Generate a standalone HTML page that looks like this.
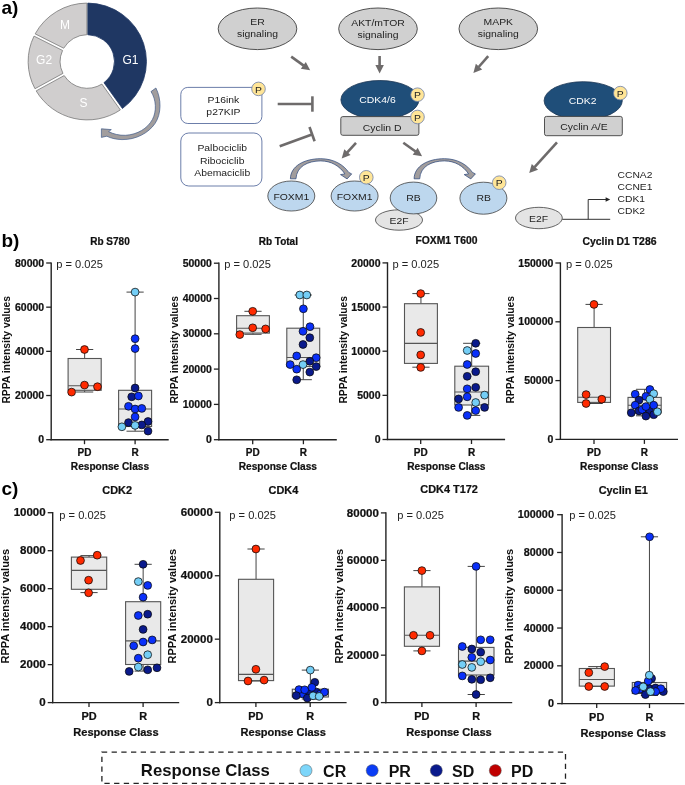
<!DOCTYPE html>
<html><head><meta charset="utf-8"><title>Figure</title>
<style>html,body{margin:0;padding:0;background:#fff;width:685px;height:785px;overflow:hidden;}svg text{font-family:"Liberation Sans", sans-serif;} svg{will-change:transform;}</style></head>
<body>
<svg width="685" height="785" viewBox="0 0 685 785" font-family='"Liberation Sans", sans-serif' style="display:block">
<rect width="685" height="785" fill="#fff"/>
<text x="1.50" y="14.30" font-size="19" font-weight="bold" text-anchor="start" fill="#000" >a)</text>
<text x="1.50" y="246.90" font-size="19" font-weight="bold" text-anchor="start" fill="#000" >b)</text>
<text x="1.50" y="494.60" font-size="19" font-weight="bold" text-anchor="start" fill="#000" >c)</text>
<g transform="translate(87.3,0) scale(1.013,1) translate(-87.3,0)">
<path d="M87.75,3.10 A58.4,58.4 0 0 1 121.98,108.49 L103.75,82.66 A26.8,26.8 0 0 0 87.75,34.70 Z" fill="#1F3763" stroke="#1F3763" stroke-width="0.8"/>
<path d="M119.93,109.93 A58.4,58.4 0 0 1 36.84,90.90 L64.49,75.57 A26.8,26.8 0 0 0 101.71,84.10 Z" fill="#D0CECE" stroke="#7A7A7A" stroke-width="0.8"/>
<path d="M35.63,88.71 A58.4,58.4 0 0 1 34.71,36.11 L62.88,50.46 A26.8,26.8 0 0 0 63.28,73.39 Z" fill="#D0CECE" stroke="#7A7A7A" stroke-width="0.8"/>
<path d="M35.84,33.88 A58.4,58.4 0 0 1 86.85,3.10 L86.85,34.70 A26.8,26.8 0 0 0 64.01,48.23 Z" fill="#D0CECE" stroke="#7A7A7A" stroke-width="0.8"/>
</g>
<text x="65.00" y="28.80" font-size="12" font-weight="normal" text-anchor="middle" fill="#FFFFFF" >M</text>
<text x="44.10" y="64.10" font-size="12" font-weight="normal" text-anchor="middle" fill="#FFFFFF" >G2</text>
<text x="83.40" y="106.50" font-size="12" font-weight="normal" text-anchor="middle" fill="#FFFFFF" >S</text>
<text x="130.40" y="63.60" font-size="12" font-weight="normal" text-anchor="middle" fill="#FFFFFF" >G1</text>
<path d="M151.0,91.6 L155.9,88.0 C161.5,99 161.5,114 155.0,123.5 C148.5,133 136,139.8 122,139.6 C116.5,139.5 110.8,138.2 106.8,136.2 L101.4,137.4 L101.4,128.8 L111.3,129.6 L108.6,131.6 C113,134 119.5,135.6 125.5,135.3 C137.5,134.6 147.5,128.5 152.4,119.5 C156.8,111.5 156.3,99.5 151.0,91.6 Z" fill="#A19D9D" stroke="#3F5A8A" stroke-width="0.7"/>
<ellipse cx="257.5" cy="28.8" rx="39.3" ry="20.8" fill="#D0D0D0" stroke="#404040" stroke-width="0.9"/>
<text transform="translate(257.50,24.50) scale(1.05,1)" font-size="9.9" font-weight="normal" text-anchor="middle" fill="#222" >ER</text>
<text transform="translate(257.50,36.50) scale(1.05,1)" font-size="9.9" font-weight="normal" text-anchor="middle" fill="#222" >signaling</text>
<ellipse cx="378.0" cy="28.8" rx="39.3" ry="20.8" fill="#D0D0D0" stroke="#404040" stroke-width="0.9"/>
<text transform="translate(378.00,26.30) scale(1.05,1)" font-size="9.9" font-weight="normal" text-anchor="middle" fill="#222" >AKT/mTOR</text>
<text transform="translate(378.00,38.20) scale(1.05,1)" font-size="9.9" font-weight="normal" text-anchor="middle" fill="#222" >signaling</text>
<ellipse cx="498.3" cy="28.8" rx="39.3" ry="20.8" fill="#D0D0D0" stroke="#404040" stroke-width="0.9"/>
<text transform="translate(498.30,24.50) scale(1.05,1)" font-size="9.9" font-weight="normal" text-anchor="middle" fill="#222" >MAPK</text>
<text transform="translate(498.30,36.50) scale(1.05,1)" font-size="9.9" font-weight="normal" text-anchor="middle" fill="#222" >signaling</text>
<line x1="291.20" y1="56.60" x2="303.71" y2="65.62" stroke="#6E6B6B" stroke-width="2.6"/>
<polygon points="310.20,70.30 300.82,68.78 305.79,61.88" fill="#6E6B6B"/>
<line x1="379.60" y1="56.00" x2="379.60" y2="65.60" stroke="#6E6B6B" stroke-width="2.6"/>
<polygon points="379.60,73.60 375.35,65.10 383.85,65.10" fill="#6E6B6B"/>
<line x1="488.20" y1="56.20" x2="478.69" y2="67.00" stroke="#6E6B6B" stroke-width="2.6"/>
<polygon points="473.40,73.00 475.83,63.81 482.21,69.43" fill="#6E6B6B"/>
<line x1="356.00" y1="142.80" x2="347.09" y2="152.59" stroke="#6E6B6B" stroke-width="2.6"/>
<polygon points="341.70,158.50 344.28,149.35 350.57,155.08" fill="#6E6B6B"/>
<line x1="403.30" y1="142.70" x2="415.60" y2="151.53" stroke="#6E6B6B" stroke-width="2.6"/>
<polygon points="422.10,156.20 412.72,154.69 417.67,147.79" fill="#6E6B6B"/>
<line x1="557.00" y1="142.40" x2="534.57" y2="167.17" stroke="#6E6B6B" stroke-width="2.6"/>
<polygon points="529.20,173.10 531.76,163.95 538.06,169.65" fill="#6E6B6B"/>
<line x1="277.7" y1="104.0" x2="312.4" y2="104.0" stroke="#6E6B6B" stroke-width="2.6"/>
<line x1="312.4" y1="96.3" x2="312.4" y2="111.7" stroke="#6E6B6B" stroke-width="2.6"/>
<line x1="279.7" y1="146.2" x2="311.9" y2="134.5" stroke="#6E6B6B" stroke-width="2.6"/>
<line x1="309.5" y1="127.0" x2="314.6" y2="141.3" stroke="#6E6B6B" stroke-width="2.6"/>
<rect x="180.8" y="87.4" width="81.1" height="36.1" rx="7" fill="#fff" stroke="#5B6FA0" stroke-width="0.9"/>
<text transform="translate(223.40,102.70) scale(1.05,1)" font-size="9.9" font-weight="normal" text-anchor="middle" fill="#222" >P16ink</text>
<text transform="translate(223.40,115.10) scale(1.05,1)" font-size="9.9" font-weight="normal" text-anchor="middle" fill="#222" >p27KIP</text>
<rect x="180.8" y="133.0" width="81.1" height="53.0" rx="8" fill="#fff" stroke="#5B6FA0" stroke-width="0.9"/>
<text transform="translate(222.20,151.30) scale(1.05,1)" font-size="9.9" font-weight="normal" text-anchor="middle" fill="#222" >Palbociclib</text>
<text transform="translate(222.20,163.60) scale(1.05,1)" font-size="9.9" font-weight="normal" text-anchor="middle" fill="#222" >Ribociclib</text>
<text transform="translate(222.20,175.80) scale(1.05,1)" font-size="9.9" font-weight="normal" text-anchor="middle" fill="#222" >Abemaciclib</text>
<ellipse cx="379.9" cy="99.8" rx="39.0" ry="19.3" fill="#1F4E79" stroke="#1B3553" stroke-width="0.8"/>
<text transform="translate(377.50,102.70) scale(1.05,1)" font-size="9.9" font-weight="normal" text-anchor="middle" fill="#fff" >CDK4/6</text>
<rect x="340.8" y="116.6" width="78.1" height="18.7" rx="2" fill="#D0D0D0" stroke="#404040" stroke-width="0.9"/>
<text transform="translate(382.20,130.50) scale(1.05,1)" font-size="9.9" font-weight="normal" text-anchor="middle" fill="#222" >Cyclin D</text>
<ellipse cx="583.2" cy="100.7" rx="39.1" ry="19.0" fill="#1F4E79" stroke="#1B3553" stroke-width="0.8"/>
<text transform="translate(582.70,104.40) scale(1.05,1)" font-size="9.9" font-weight="normal" text-anchor="middle" fill="#fff" >CDK2</text>
<rect x="544.5" y="116.4" width="77.8" height="19.3" rx="2" fill="#D0D0D0" stroke="#404040" stroke-width="0.9"/>
<text transform="translate(584.00,130.40) scale(1.05,1)" font-size="9.9" font-weight="normal" text-anchor="middle" fill="#222" >Cyclin A/E</text>
<ellipse cx="291.3" cy="196.0" rx="23.5" ry="15.0" fill="#BDD7EE" stroke="#404040" stroke-width="0.8"/>
<text transform="translate(291.30,199.60) scale(1.05,1)" font-size="9.9" font-weight="normal" text-anchor="middle" fill="#222" >FOXM1</text>
<ellipse cx="354.6" cy="196.0" rx="23.5" ry="15.0" fill="#BDD7EE" stroke="#404040" stroke-width="0.8"/>
<text transform="translate(354.60,199.60) scale(1.05,1)" font-size="9.9" font-weight="normal" text-anchor="middle" fill="#222" >FOXM1</text>
<ellipse cx="399.0" cy="220.0" rx="23.5" ry="10.2" fill="#E4E4E4" stroke="#404040" stroke-width="0.8"/>
<text transform="translate(399.00,223.70) scale(1.05,1)" font-size="9.9" font-weight="normal" text-anchor="middle" fill="#222" >E2F</text>
<ellipse cx="413.5" cy="198.0" rx="23.3" ry="15.9" fill="#BDD7EE" stroke="#404040" stroke-width="0.8"/>
<text transform="translate(413.50,201.30) scale(1.05,1)" font-size="9.9" font-weight="normal" text-anchor="middle" fill="#222" >RB</text>
<ellipse cx="483.4" cy="198.2" rx="23.5" ry="16.0" fill="#BDD7EE" stroke="#404040" stroke-width="0.8"/>
<text transform="translate(483.60,201.30) scale(1.05,1)" font-size="9.9" font-weight="normal" text-anchor="middle" fill="#222" >RB</text>
<ellipse cx="538.9" cy="218.0" rx="23.4" ry="10.7" fill="#E4E4E4" stroke="#404040" stroke-width="0.8"/>
<text transform="translate(538.60,221.80) scale(1.05,1)" font-size="9.9" font-weight="normal" text-anchor="middle" fill="#222" >E2F</text>
<path transform="translate(-123.7,0)" d="M414.1,178.8 C414.3,166 428,158.7 444.5,158.7 C457.5,158.7 467.5,165 472.4,172.4 L475.4,173.9 L470.8,178.9 L464.2,174.6 L468.6,173.9 C463.5,166.2 455,160.9 444.5,160.9 C431.5,160.9 420.2,166.5 419.7,178.8 Z" fill="#A19D9D" stroke="#2F4A7C" stroke-width="0.75" stroke-linejoin="miter"/>
<path transform="translate(0,0)" d="M414.1,178.8 C414.3,166 428,158.7 444.5,158.7 C457.5,158.7 467.5,165 472.4,172.4 L475.4,173.9 L470.8,178.9 L464.2,174.6 L468.6,173.9 C463.5,166.2 455,160.9 444.5,160.9 C431.5,160.9 420.2,166.5 419.7,178.8 Z" fill="#A19D9D" stroke="#2F4A7C" stroke-width="0.75" stroke-linejoin="miter"/>
<circle cx="258.5" cy="88.9" r="6.8" fill="#FFE597" stroke="#6D7FA8" stroke-width="0.8"/>
<text transform="translate(258.50,92.50) scale(1.05,1)" font-size="9.9" font-weight="normal" text-anchor="middle" fill="#222" >P</text>
<circle cx="417.5" cy="94.7" r="6.8" fill="#FFE597" stroke="#6D7FA8" stroke-width="0.8"/>
<text transform="translate(417.50,98.30) scale(1.05,1)" font-size="9.9" font-weight="normal" text-anchor="middle" fill="#222" >P</text>
<circle cx="417.5" cy="117.0" r="6.8" fill="#FFE597" stroke="#6D7FA8" stroke-width="0.8"/>
<text transform="translate(417.50,120.60) scale(1.05,1)" font-size="9.9" font-weight="normal" text-anchor="middle" fill="#222" >P</text>
<circle cx="620.3" cy="93.1" r="6.8" fill="#FFE597" stroke="#6D7FA8" stroke-width="0.8"/>
<text transform="translate(620.30,96.70) scale(1.05,1)" font-size="9.9" font-weight="normal" text-anchor="middle" fill="#222" >P</text>
<circle cx="366.3" cy="177.3" r="6.8" fill="#FFE597" stroke="#6D7FA8" stroke-width="0.8"/>
<text transform="translate(366.30,180.90) scale(1.05,1)" font-size="9.9" font-weight="normal" text-anchor="middle" fill="#222" >P</text>
<circle cx="499.2" cy="182.7" r="6.8" fill="#FFE597" stroke="#6D7FA8" stroke-width="0.8"/>
<text transform="translate(499.20,186.30) scale(1.05,1)" font-size="9.9" font-weight="normal" text-anchor="middle" fill="#222" >P</text>
<polyline points="562.3,219.3 610.2,219.3" fill="none" stroke="#333" stroke-width="1"/>
<polyline points="588.2,219.3 588.2,199.5 606.0,199.5" fill="none" stroke="#333" stroke-width="1"/>
<polygon points="610.2,199.5 605.6,197.3 605.6,201.7" fill="#222"/>
<text transform="translate(617.60,177.60) scale(1.04,1)" font-size="9.9" font-weight="normal" text-anchor="start" fill="#222" >CCNA2</text>
<text transform="translate(617.60,189.67) scale(1.04,1)" font-size="9.9" font-weight="normal" text-anchor="start" fill="#222" >CCNE1</text>
<text transform="translate(617.60,201.74) scale(1.04,1)" font-size="9.9" font-weight="normal" text-anchor="start" fill="#222" >CDK1</text>
<text transform="translate(617.60,213.81) scale(1.04,1)" font-size="9.9" font-weight="normal" text-anchor="start" fill="#222" >CDK2</text>
<text transform="translate(110.00,245.30) scale(1.000,1)" font-size="10.0" font-weight="bold" text-anchor="middle" fill="#111" stroke="#111" stroke-width="0.22">Rb S780</text>
<text transform="translate(10.00,349.80) rotate(-90)" font-size="10.2" font-weight="bold" text-anchor="middle" fill="#111" textLength="107.6" lengthAdjust="spacingAndGlyphs">RPPA intensity values</text>
<line x1="46.20" y1="439.70" x2="51.20" y2="439.70" stroke="#222" stroke-width="1.3"/>
<text transform="translate(44.20,443.30) scale(1.050,1)" font-size="10.0" font-weight="bold" text-anchor="end" fill="#111" stroke="#111" stroke-width="0.22">0</text>
<line x1="46.20" y1="395.52" x2="51.20" y2="395.52" stroke="#222" stroke-width="1.3"/>
<text transform="translate(44.20,399.12) scale(1.050,1)" font-size="10.0" font-weight="bold" text-anchor="end" fill="#111" stroke="#111" stroke-width="0.22">20000</text>
<line x1="46.20" y1="351.35" x2="51.20" y2="351.35" stroke="#222" stroke-width="1.3"/>
<text transform="translate(44.20,354.95) scale(1.050,1)" font-size="10.0" font-weight="bold" text-anchor="end" fill="#111" stroke="#111" stroke-width="0.22">40000</text>
<line x1="46.20" y1="307.17" x2="51.20" y2="307.17" stroke="#222" stroke-width="1.3"/>
<text transform="translate(44.20,310.77) scale(1.050,1)" font-size="10.0" font-weight="bold" text-anchor="end" fill="#111" stroke="#111" stroke-width="0.22">60000</text>
<line x1="46.20" y1="263.00" x2="51.20" y2="263.00" stroke="#222" stroke-width="1.3"/>
<text transform="translate(44.20,266.60) scale(1.050,1)" font-size="10.0" font-weight="bold" text-anchor="end" fill="#111" stroke="#111" stroke-width="0.22">80000</text>
<line x1="51.20" y1="262.40" x2="51.20" y2="440.30" stroke="#222" stroke-width="1.4"/>
<line x1="50.50" y1="439.70" x2="168.70" y2="439.70" stroke="#222" stroke-width="1.4"/>
<line x1="84.50" y1="439.70" x2="84.50" y2="444.20" stroke="#222" stroke-width="1.3"/>
<text transform="translate(84.50,456.10) scale(1.000,1)" font-size="10.0" font-weight="bold" text-anchor="middle" fill="#111" stroke="#111" stroke-width="0.22">PD</text>
<line x1="135.10" y1="439.70" x2="135.10" y2="444.20" stroke="#222" stroke-width="1.3"/>
<text transform="translate(135.10,456.10) scale(1.000,1)" font-size="10.0" font-weight="bold" text-anchor="middle" fill="#111" stroke="#111" stroke-width="0.22">R</text>
<text transform="translate(109.95,470.00) scale(1.000,1)" font-size="10.15" font-weight="bold" text-anchor="middle" fill="#111" stroke="#111" stroke-width="0.22">Response Class</text>
<text transform="translate(56.20,268.10) scale(1.030,1)" font-size="10.8" font-weight="normal" text-anchor="start" fill="#222">p = 0.025</text>
<line x1="84.65" y1="349.50" x2="84.65" y2="358.50" stroke="#444" stroke-width="1"/>
<line x1="84.65" y1="390.30" x2="84.65" y2="392.00" stroke="#444" stroke-width="1"/>
<line x1="76.05" y1="349.50" x2="93.25" y2="349.50" stroke="#444" stroke-width="1"/>
<line x1="76.05" y1="392.00" x2="93.25" y2="392.00" stroke="#444" stroke-width="1"/>
<rect x="68.10" y="358.50" width="33.10" height="31.80" fill="#E9E9E9" stroke="#555" stroke-width="1.1"/>
<line x1="68.10" y1="385.70" x2="101.20" y2="385.70" stroke="#555" stroke-width="1.1"/>
<line x1="135.10" y1="292.10" x2="135.10" y2="390.30" stroke="#444" stroke-width="1"/>
<line x1="135.10" y1="426.50" x2="135.10" y2="431.20" stroke="#444" stroke-width="1"/>
<line x1="126.50" y1="292.10" x2="143.70" y2="292.10" stroke="#444" stroke-width="1"/>
<line x1="126.50" y1="431.20" x2="143.70" y2="431.20" stroke="#444" stroke-width="1"/>
<rect x="118.60" y="390.30" width="33.00" height="36.20" fill="#E9E9E9" stroke="#555" stroke-width="1.1"/>
<line x1="118.60" y1="409.00" x2="151.60" y2="409.00" stroke="#555" stroke-width="1.1"/>
<circle cx="84.50" cy="349.50" r="3.9" fill="#FF2A00" stroke="#0a0a0a" stroke-width="0.75"/>
<circle cx="84.50" cy="385.10" r="3.9" fill="#FF2A00" stroke="#0a0a0a" stroke-width="0.75"/>
<circle cx="97.50" cy="386.70" r="3.9" fill="#FF2A00" stroke="#0a0a0a" stroke-width="0.75"/>
<circle cx="71.60" cy="392.10" r="3.9" fill="#FF2A00" stroke="#0a0a0a" stroke-width="0.75"/>
<circle cx="135.10" cy="292.10" r="3.9" fill="#74CEF6" stroke="#0a0a0a" stroke-width="0.75"/>
<circle cx="135.10" cy="338.70" r="3.9" fill="#0A30FA" stroke="#0a0a0a" stroke-width="0.75"/>
<circle cx="135.10" cy="348.60" r="3.9" fill="#0A30FA" stroke="#0a0a0a" stroke-width="0.75"/>
<circle cx="135.10" cy="388.00" r="3.9" fill="#0A1A8C" stroke="#0a0a0a" stroke-width="0.75"/>
<circle cx="131.70" cy="396.80" r="3.9" fill="#0A1A8C" stroke="#0a0a0a" stroke-width="0.75"/>
<circle cx="138.40" cy="396.00" r="3.9" fill="#0A30FA" stroke="#0a0a0a" stroke-width="0.75"/>
<circle cx="128.50" cy="406.30" r="3.9" fill="#0A30FA" stroke="#0a0a0a" stroke-width="0.75"/>
<circle cx="135.10" cy="409.00" r="3.9" fill="#0A30FA" stroke="#0a0a0a" stroke-width="0.75"/>
<circle cx="141.80" cy="408.40" r="3.9" fill="#0A30FA" stroke="#0a0a0a" stroke-width="0.75"/>
<circle cx="135.10" cy="416.90" r="3.9" fill="#0A30FA" stroke="#0a0a0a" stroke-width="0.75"/>
<circle cx="128.50" cy="422.60" r="3.9" fill="#0A1A8C" stroke="#0a0a0a" stroke-width="0.75"/>
<circle cx="148.00" cy="421.50" r="3.9" fill="#0A1A8C" stroke="#0a0a0a" stroke-width="0.75"/>
<circle cx="141.80" cy="424.90" r="3.9" fill="#0A1A8C" stroke="#0a0a0a" stroke-width="0.75"/>
<circle cx="121.90" cy="426.80" r="3.9" fill="#74CEF6" stroke="#0a0a0a" stroke-width="0.75"/>
<circle cx="135.10" cy="425.40" r="3.9" fill="#74CEF6" stroke="#0a0a0a" stroke-width="0.75"/>
<circle cx="148.00" cy="431.10" r="3.9" fill="#0A1A8C" stroke="#0a0a0a" stroke-width="0.75"/>
<text transform="translate(278.30,244.70) scale(1.000,1)" font-size="10.0" font-weight="bold" text-anchor="middle" fill="#111" stroke="#111" stroke-width="0.22">Rb Total</text>
<text transform="translate(178.00,349.80) rotate(-90)" font-size="10.2" font-weight="bold" text-anchor="middle" fill="#111" textLength="107.6" lengthAdjust="spacingAndGlyphs">RPPA intensity values</text>
<line x1="213.90" y1="439.70" x2="218.90" y2="439.70" stroke="#222" stroke-width="1.3"/>
<text transform="translate(211.90,443.30) scale(1.050,1)" font-size="10.0" font-weight="bold" text-anchor="end" fill="#111" stroke="#111" stroke-width="0.22">0</text>
<line x1="213.90" y1="404.40" x2="218.90" y2="404.40" stroke="#222" stroke-width="1.3"/>
<text transform="translate(211.90,408.00) scale(1.050,1)" font-size="10.0" font-weight="bold" text-anchor="end" fill="#111" stroke="#111" stroke-width="0.22">10000</text>
<line x1="213.90" y1="369.10" x2="218.90" y2="369.10" stroke="#222" stroke-width="1.3"/>
<text transform="translate(211.90,372.70) scale(1.050,1)" font-size="10.0" font-weight="bold" text-anchor="end" fill="#111" stroke="#111" stroke-width="0.22">20000</text>
<line x1="213.90" y1="333.80" x2="218.90" y2="333.80" stroke="#222" stroke-width="1.3"/>
<text transform="translate(211.90,337.40) scale(1.050,1)" font-size="10.0" font-weight="bold" text-anchor="end" fill="#111" stroke="#111" stroke-width="0.22">30000</text>
<line x1="213.90" y1="298.50" x2="218.90" y2="298.50" stroke="#222" stroke-width="1.3"/>
<text transform="translate(211.90,302.10) scale(1.050,1)" font-size="10.0" font-weight="bold" text-anchor="end" fill="#111" stroke="#111" stroke-width="0.22">40000</text>
<line x1="213.90" y1="263.20" x2="218.90" y2="263.20" stroke="#222" stroke-width="1.3"/>
<text transform="translate(211.90,266.80) scale(1.050,1)" font-size="10.0" font-weight="bold" text-anchor="end" fill="#111" stroke="#111" stroke-width="0.22">50000</text>
<line x1="218.90" y1="262.60" x2="218.90" y2="440.30" stroke="#222" stroke-width="1.4"/>
<line x1="218.20" y1="439.70" x2="336.80" y2="439.70" stroke="#222" stroke-width="1.4"/>
<line x1="252.70" y1="439.70" x2="252.70" y2="444.20" stroke="#222" stroke-width="1.3"/>
<text transform="translate(252.70,456.10) scale(1.000,1)" font-size="10.0" font-weight="bold" text-anchor="middle" fill="#111" stroke="#111" stroke-width="0.22">PD</text>
<line x1="303.40" y1="439.70" x2="303.40" y2="444.20" stroke="#222" stroke-width="1.3"/>
<text transform="translate(303.40,456.10) scale(1.000,1)" font-size="10.0" font-weight="bold" text-anchor="middle" fill="#111" stroke="#111" stroke-width="0.22">R</text>
<text transform="translate(277.85,470.00) scale(1.000,1)" font-size="10.15" font-weight="bold" text-anchor="middle" fill="#111" stroke="#111" stroke-width="0.22">Response Class</text>
<text transform="translate(224.20,268.10) scale(1.030,1)" font-size="10.8" font-weight="normal" text-anchor="start" fill="#222">p = 0.025</text>
<line x1="253.00" y1="311.30" x2="253.00" y2="315.70" stroke="#444" stroke-width="1"/>
<line x1="253.00" y1="333.10" x2="253.00" y2="334.30" stroke="#444" stroke-width="1"/>
<line x1="244.40" y1="311.30" x2="261.60" y2="311.30" stroke="#444" stroke-width="1"/>
<line x1="244.40" y1="334.30" x2="261.60" y2="334.30" stroke="#444" stroke-width="1"/>
<rect x="236.60" y="315.70" width="32.80" height="17.40" fill="#E9E9E9" stroke="#555" stroke-width="1.1"/>
<line x1="236.60" y1="328.20" x2="269.40" y2="328.20" stroke="#555" stroke-width="1.1"/>
<line x1="303.25" y1="295.00" x2="303.25" y2="328.20" stroke="#444" stroke-width="1"/>
<line x1="303.25" y1="366.50" x2="303.25" y2="379.70" stroke="#444" stroke-width="1"/>
<line x1="294.65" y1="295.00" x2="311.85" y2="295.00" stroke="#444" stroke-width="1"/>
<line x1="294.65" y1="379.70" x2="311.85" y2="379.70" stroke="#444" stroke-width="1"/>
<rect x="286.80" y="328.20" width="32.90" height="38.30" fill="#E9E9E9" stroke="#555" stroke-width="1.1"/>
<line x1="286.80" y1="357.50" x2="319.70" y2="357.50" stroke="#555" stroke-width="1.1"/>
<circle cx="252.70" cy="311.30" r="3.9" fill="#FF2A00" stroke="#0a0a0a" stroke-width="0.75"/>
<circle cx="252.70" cy="327.80" r="3.9" fill="#FF2A00" stroke="#0a0a0a" stroke-width="0.75"/>
<circle cx="265.60" cy="328.90" r="3.9" fill="#FF2A00" stroke="#0a0a0a" stroke-width="0.75"/>
<circle cx="239.80" cy="334.60" r="3.9" fill="#FF2A00" stroke="#0a0a0a" stroke-width="0.75"/>
<circle cx="299.80" cy="295.00" r="3.9" fill="#74CEF6" stroke="#0a0a0a" stroke-width="0.75"/>
<circle cx="306.80" cy="295.00" r="3.9" fill="#74CEF6" stroke="#0a0a0a" stroke-width="0.75"/>
<circle cx="303.40" cy="308.80" r="3.9" fill="#0A30FA" stroke="#0a0a0a" stroke-width="0.75"/>
<circle cx="310.00" cy="326.70" r="3.9" fill="#0A30FA" stroke="#0a0a0a" stroke-width="0.75"/>
<circle cx="303.00" cy="331.30" r="3.9" fill="#0A30FA" stroke="#0a0a0a" stroke-width="0.75"/>
<circle cx="309.80" cy="337.70" r="3.9" fill="#0A1A8C" stroke="#0a0a0a" stroke-width="0.75"/>
<circle cx="303.00" cy="344.50" r="3.9" fill="#0A1A8C" stroke="#0a0a0a" stroke-width="0.75"/>
<circle cx="296.70" cy="355.90" r="3.9" fill="#0A30FA" stroke="#0a0a0a" stroke-width="0.75"/>
<circle cx="316.20" cy="357.70" r="3.9" fill="#0A30FA" stroke="#0a0a0a" stroke-width="0.75"/>
<circle cx="309.80" cy="361.30" r="3.9" fill="#0A1A8C" stroke="#0a0a0a" stroke-width="0.75"/>
<circle cx="290.20" cy="364.60" r="3.9" fill="#0A30FA" stroke="#0a0a0a" stroke-width="0.75"/>
<circle cx="303.00" cy="364.60" r="3.9" fill="#74CEF6" stroke="#0a0a0a" stroke-width="0.75"/>
<circle cx="316.20" cy="366.60" r="3.9" fill="#0A1A8C" stroke="#0a0a0a" stroke-width="0.75"/>
<circle cx="296.70" cy="369.20" r="3.9" fill="#0A30FA" stroke="#0a0a0a" stroke-width="0.75"/>
<circle cx="309.80" cy="372.10" r="3.9" fill="#0A1A8C" stroke="#0a0a0a" stroke-width="0.75"/>
<circle cx="296.70" cy="379.80" r="3.9" fill="#0A1A8C" stroke="#0a0a0a" stroke-width="0.75"/>
<text transform="translate(446.50,244.30) scale(1.035,1)" font-size="10.0" font-weight="bold" text-anchor="middle" fill="#111" stroke="#111" stroke-width="0.22">FOXM1 T600</text>
<text transform="translate(346.50,349.80) rotate(-90)" font-size="10.2" font-weight="bold" text-anchor="middle" fill="#111" textLength="107.6" lengthAdjust="spacingAndGlyphs">RPPA intensity values</text>
<line x1="382.50" y1="439.50" x2="387.50" y2="439.50" stroke="#222" stroke-width="1.3"/>
<text transform="translate(380.50,443.10) scale(1.050,1)" font-size="10.0" font-weight="bold" text-anchor="end" fill="#111" stroke="#111" stroke-width="0.22">0</text>
<line x1="382.50" y1="395.35" x2="387.50" y2="395.35" stroke="#222" stroke-width="1.3"/>
<text transform="translate(380.50,398.95) scale(1.050,1)" font-size="10.0" font-weight="bold" text-anchor="end" fill="#111" stroke="#111" stroke-width="0.22">5000</text>
<line x1="382.50" y1="351.20" x2="387.50" y2="351.20" stroke="#222" stroke-width="1.3"/>
<text transform="translate(380.50,354.80) scale(1.050,1)" font-size="10.0" font-weight="bold" text-anchor="end" fill="#111" stroke="#111" stroke-width="0.22">10000</text>
<line x1="382.50" y1="307.05" x2="387.50" y2="307.05" stroke="#222" stroke-width="1.3"/>
<text transform="translate(380.50,310.65) scale(1.050,1)" font-size="10.0" font-weight="bold" text-anchor="end" fill="#111" stroke="#111" stroke-width="0.22">15000</text>
<line x1="382.50" y1="262.90" x2="387.50" y2="262.90" stroke="#222" stroke-width="1.3"/>
<text transform="translate(380.50,266.50) scale(1.050,1)" font-size="10.0" font-weight="bold" text-anchor="end" fill="#111" stroke="#111" stroke-width="0.22">20000</text>
<line x1="387.50" y1="262.30" x2="387.50" y2="440.10" stroke="#222" stroke-width="1.4"/>
<line x1="386.80" y1="439.50" x2="505.10" y2="439.50" stroke="#222" stroke-width="1.4"/>
<line x1="420.70" y1="439.50" x2="420.70" y2="444.00" stroke="#222" stroke-width="1.3"/>
<text transform="translate(420.70,455.90) scale(1.000,1)" font-size="10.0" font-weight="bold" text-anchor="middle" fill="#111" stroke="#111" stroke-width="0.22">PD</text>
<line x1="471.50" y1="439.50" x2="471.50" y2="444.00" stroke="#222" stroke-width="1.3"/>
<text transform="translate(471.50,455.90) scale(1.000,1)" font-size="10.0" font-weight="bold" text-anchor="middle" fill="#111" stroke="#111" stroke-width="0.22">R</text>
<text transform="translate(446.30,469.80) scale(1.000,1)" font-size="10.15" font-weight="bold" text-anchor="middle" fill="#111" stroke="#111" stroke-width="0.22">Response Class</text>
<text transform="translate(392.50,268.10) scale(1.030,1)" font-size="10.8" font-weight="normal" text-anchor="start" fill="#222">p = 0.025</text>
<line x1="420.95" y1="293.60" x2="420.95" y2="303.70" stroke="#444" stroke-width="1"/>
<line x1="420.95" y1="363.40" x2="420.95" y2="367.20" stroke="#444" stroke-width="1"/>
<line x1="412.35" y1="293.60" x2="429.55" y2="293.60" stroke="#444" stroke-width="1"/>
<line x1="412.35" y1="367.20" x2="429.55" y2="367.20" stroke="#444" stroke-width="1"/>
<rect x="404.50" y="303.70" width="32.90" height="59.70" fill="#E9E9E9" stroke="#555" stroke-width="1.1"/>
<line x1="404.50" y1="343.40" x2="437.40" y2="343.40" stroke="#555" stroke-width="1.1"/>
<line x1="471.70" y1="343.30" x2="471.70" y2="366.20" stroke="#444" stroke-width="1"/>
<line x1="471.70" y1="405.00" x2="471.70" y2="415.40" stroke="#444" stroke-width="1"/>
<line x1="463.10" y1="343.30" x2="480.30" y2="343.30" stroke="#444" stroke-width="1"/>
<line x1="463.10" y1="415.40" x2="480.30" y2="415.40" stroke="#444" stroke-width="1"/>
<rect x="454.80" y="366.20" width="33.80" height="38.80" fill="#E9E9E9" stroke="#555" stroke-width="1.1"/>
<line x1="454.80" y1="392.00" x2="488.60" y2="392.00" stroke="#555" stroke-width="1.1"/>
<circle cx="420.70" cy="293.60" r="3.9" fill="#FF2A00" stroke="#0a0a0a" stroke-width="0.75"/>
<circle cx="420.70" cy="332.40" r="3.9" fill="#FF2A00" stroke="#0a0a0a" stroke-width="0.75"/>
<circle cx="420.70" cy="354.90" r="3.9" fill="#FF2A00" stroke="#0a0a0a" stroke-width="0.75"/>
<circle cx="420.70" cy="367.40" r="3.9" fill="#FF2A00" stroke="#0a0a0a" stroke-width="0.75"/>
<circle cx="475.70" cy="343.30" r="3.9" fill="#0A1A8C" stroke="#0a0a0a" stroke-width="0.75"/>
<circle cx="467.20" cy="350.50" r="3.9" fill="#74CEF6" stroke="#0a0a0a" stroke-width="0.75"/>
<circle cx="475.70" cy="353.50" r="3.9" fill="#0A30FA" stroke="#0a0a0a" stroke-width="0.75"/>
<circle cx="467.20" cy="364.50" r="3.9" fill="#0A30FA" stroke="#0a0a0a" stroke-width="0.75"/>
<circle cx="475.70" cy="371.70" r="3.9" fill="#0A1A8C" stroke="#0a0a0a" stroke-width="0.75"/>
<circle cx="467.20" cy="376.30" r="3.9" fill="#0A1A8C" stroke="#0a0a0a" stroke-width="0.75"/>
<circle cx="467.20" cy="388.80" r="3.9" fill="#0A30FA" stroke="#0a0a0a" stroke-width="0.75"/>
<circle cx="475.70" cy="387.30" r="3.9" fill="#0A1A8C" stroke="#0a0a0a" stroke-width="0.75"/>
<circle cx="484.60" cy="395.10" r="3.9" fill="#74CEF6" stroke="#0a0a0a" stroke-width="0.75"/>
<circle cx="458.60" cy="398.90" r="3.9" fill="#0A1A8C" stroke="#0a0a0a" stroke-width="0.75"/>
<circle cx="467.20" cy="396.80" r="3.9" fill="#0A30FA" stroke="#0a0a0a" stroke-width="0.75"/>
<circle cx="475.70" cy="402.50" r="3.9" fill="#74CEF6" stroke="#0a0a0a" stroke-width="0.75"/>
<circle cx="458.60" cy="407.40" r="3.9" fill="#0A30FA" stroke="#0a0a0a" stroke-width="0.75"/>
<circle cx="484.60" cy="407.40" r="3.9" fill="#0A1A8C" stroke="#0a0a0a" stroke-width="0.75"/>
<circle cx="475.70" cy="410.60" r="3.9" fill="#0A30FA" stroke="#0a0a0a" stroke-width="0.75"/>
<circle cx="467.20" cy="415.40" r="3.9" fill="#0A30FA" stroke="#0a0a0a" stroke-width="0.75"/>
<text transform="translate(619.50,245.10) scale(1.040,1)" font-size="10.0" font-weight="bold" text-anchor="middle" fill="#111" stroke="#111" stroke-width="0.22">Cyclin D1 T286</text>
<text transform="translate(514.00,349.80) rotate(-90)" font-size="10.2" font-weight="bold" text-anchor="middle" fill="#111" textLength="107.6" lengthAdjust="spacingAndGlyphs">RPPA intensity values</text>
<line x1="555.40" y1="439.40" x2="560.40" y2="439.40" stroke="#222" stroke-width="1.3"/>
<text transform="translate(553.40,443.00) scale(1.050,1)" font-size="10.0" font-weight="bold" text-anchor="end" fill="#111" stroke="#111" stroke-width="0.22">0</text>
<line x1="555.40" y1="380.60" x2="560.40" y2="380.60" stroke="#222" stroke-width="1.3"/>
<text transform="translate(553.40,384.20) scale(1.050,1)" font-size="10.0" font-weight="bold" text-anchor="end" fill="#111" stroke="#111" stroke-width="0.22">50000</text>
<line x1="555.40" y1="321.80" x2="560.40" y2="321.80" stroke="#222" stroke-width="1.3"/>
<text transform="translate(553.40,325.40) scale(1.050,1)" font-size="10.0" font-weight="bold" text-anchor="end" fill="#111" stroke="#111" stroke-width="0.22">100000</text>
<line x1="555.40" y1="263.00" x2="560.40" y2="263.00" stroke="#222" stroke-width="1.3"/>
<text transform="translate(553.40,266.60) scale(1.050,1)" font-size="10.0" font-weight="bold" text-anchor="end" fill="#111" stroke="#111" stroke-width="0.22">150000</text>
<line x1="560.40" y1="262.40" x2="560.40" y2="440.00" stroke="#222" stroke-width="1.4"/>
<line x1="559.70" y1="439.40" x2="678.00" y2="439.40" stroke="#222" stroke-width="1.4"/>
<line x1="594.00" y1="439.40" x2="594.00" y2="443.90" stroke="#222" stroke-width="1.3"/>
<text transform="translate(594.00,455.80) scale(1.000,1)" font-size="10.0" font-weight="bold" text-anchor="middle" fill="#111" stroke="#111" stroke-width="0.22">PD</text>
<line x1="644.40" y1="439.40" x2="644.40" y2="443.90" stroke="#222" stroke-width="1.3"/>
<text transform="translate(644.40,455.80) scale(1.000,1)" font-size="10.0" font-weight="bold" text-anchor="middle" fill="#111" stroke="#111" stroke-width="0.22">R</text>
<text transform="translate(619.20,469.70) scale(1.000,1)" font-size="10.15" font-weight="bold" text-anchor="middle" fill="#111" stroke="#111" stroke-width="0.22">Response Class</text>
<text transform="translate(565.90,268.10) scale(1.030,1)" font-size="10.8" font-weight="normal" text-anchor="start" fill="#222">p = 0.025</text>
<line x1="594.10" y1="304.40" x2="594.10" y2="327.50" stroke="#444" stroke-width="1"/>
<line x1="594.10" y1="402.40" x2="594.10" y2="403.50" stroke="#444" stroke-width="1"/>
<line x1="585.50" y1="304.40" x2="602.70" y2="304.40" stroke="#444" stroke-width="1"/>
<line x1="585.50" y1="403.50" x2="602.70" y2="403.50" stroke="#444" stroke-width="1"/>
<rect x="577.70" y="327.50" width="32.80" height="74.90" fill="#E9E9E9" stroke="#555" stroke-width="1.1"/>
<line x1="577.70" y1="397.30" x2="610.50" y2="397.30" stroke="#555" stroke-width="1.1"/>
<line x1="644.60" y1="389.30" x2="644.60" y2="397.40" stroke="#444" stroke-width="1"/>
<line x1="644.60" y1="413.00" x2="644.60" y2="415.80" stroke="#444" stroke-width="1"/>
<line x1="636.00" y1="389.30" x2="653.20" y2="389.30" stroke="#444" stroke-width="1"/>
<line x1="636.00" y1="415.80" x2="653.20" y2="415.80" stroke="#444" stroke-width="1"/>
<rect x="628.00" y="397.40" width="33.20" height="15.60" fill="#E9E9E9" stroke="#555" stroke-width="1.1"/>
<line x1="628.00" y1="405.30" x2="661.20" y2="405.30" stroke="#555" stroke-width="1.1"/>
<circle cx="594.00" cy="304.40" r="3.9" fill="#FF2A00" stroke="#0a0a0a" stroke-width="0.75"/>
<circle cx="586.10" cy="394.60" r="3.9" fill="#FF2A00" stroke="#0a0a0a" stroke-width="0.75"/>
<circle cx="601.80" cy="399.20" r="3.9" fill="#FF2A00" stroke="#0a0a0a" stroke-width="0.75"/>
<circle cx="586.10" cy="403.50" r="3.9" fill="#FF2A00" stroke="#0a0a0a" stroke-width="0.75"/>
<circle cx="649.90" cy="389.50" r="3.9" fill="#0A30FA" stroke="#0a0a0a" stroke-width="0.75"/>
<circle cx="635.20" cy="394.20" r="3.9" fill="#0A30FA" stroke="#0a0a0a" stroke-width="0.75"/>
<circle cx="645.90" cy="396.40" r="3.9" fill="#0A30FA" stroke="#0a0a0a" stroke-width="0.75"/>
<circle cx="653.70" cy="393.70" r="3.9" fill="#74CEF6" stroke="#0a0a0a" stroke-width="0.75"/>
<circle cx="639.00" cy="400.10" r="3.9" fill="#0A1A8C" stroke="#0a0a0a" stroke-width="0.75"/>
<circle cx="649.90" cy="399.30" r="3.9" fill="#74CEF6" stroke="#0a0a0a" stroke-width="0.75"/>
<circle cx="635.20" cy="405.20" r="3.9" fill="#0A30FA" stroke="#0a0a0a" stroke-width="0.75"/>
<circle cx="639.00" cy="411.00" r="3.9" fill="#0A1A8C" stroke="#0a0a0a" stroke-width="0.75"/>
<circle cx="642.30" cy="409.60" r="3.9" fill="#0A30FA" stroke="#0a0a0a" stroke-width="0.75"/>
<circle cx="649.90" cy="411.40" r="3.9" fill="#0A1A8C" stroke="#0a0a0a" stroke-width="0.75"/>
<circle cx="645.90" cy="406.60" r="3.9" fill="#0A30FA" stroke="#0a0a0a" stroke-width="0.75"/>
<circle cx="653.70" cy="405.20" r="3.9" fill="#0A30FA" stroke="#0a0a0a" stroke-width="0.75"/>
<circle cx="631.30" cy="412.80" r="3.9" fill="#0A1A8C" stroke="#0a0a0a" stroke-width="0.75"/>
<circle cx="653.70" cy="414.70" r="3.9" fill="#0A1A8C" stroke="#0a0a0a" stroke-width="0.75"/>
<circle cx="645.90" cy="416.10" r="3.9" fill="#0A1A8C" stroke="#0a0a0a" stroke-width="0.75"/>
<circle cx="657.40" cy="411.80" r="3.9" fill="#74CEF6" stroke="#0a0a0a" stroke-width="0.75"/>
<text transform="translate(117.20,493.80) scale(1.050,1)" font-size="10.4" font-weight="bold" text-anchor="middle" fill="#111" stroke="#111" stroke-width="0.22">CDK2</text>
<text transform="translate(9.00,606.20) rotate(-90)" font-size="10.6" font-weight="bold" text-anchor="middle" fill="#111" textLength="114.5" lengthAdjust="spacingAndGlyphs">RPPA intensity values</text>
<line x1="47.70" y1="702.60" x2="52.70" y2="702.60" stroke="#222" stroke-width="1.3"/>
<text transform="translate(45.70,706.20) scale(1.110,1)" font-size="10.4" font-weight="bold" text-anchor="end" fill="#111" stroke="#111" stroke-width="0.22">0</text>
<line x1="47.70" y1="664.62" x2="52.70" y2="664.62" stroke="#222" stroke-width="1.3"/>
<text transform="translate(45.70,668.22) scale(1.110,1)" font-size="10.4" font-weight="bold" text-anchor="end" fill="#111" stroke="#111" stroke-width="0.22">2000</text>
<line x1="47.70" y1="626.64" x2="52.70" y2="626.64" stroke="#222" stroke-width="1.3"/>
<text transform="translate(45.70,630.24) scale(1.110,1)" font-size="10.4" font-weight="bold" text-anchor="end" fill="#111" stroke="#111" stroke-width="0.22">4000</text>
<line x1="47.70" y1="588.66" x2="52.70" y2="588.66" stroke="#222" stroke-width="1.3"/>
<text transform="translate(45.70,592.26) scale(1.110,1)" font-size="10.4" font-weight="bold" text-anchor="end" fill="#111" stroke="#111" stroke-width="0.22">6000</text>
<line x1="47.70" y1="550.68" x2="52.70" y2="550.68" stroke="#222" stroke-width="1.3"/>
<text transform="translate(45.70,554.28) scale(1.110,1)" font-size="10.4" font-weight="bold" text-anchor="end" fill="#111" stroke="#111" stroke-width="0.22">8000</text>
<line x1="47.70" y1="512.70" x2="52.70" y2="512.70" stroke="#222" stroke-width="1.3"/>
<text transform="translate(45.70,516.30) scale(1.110,1)" font-size="10.4" font-weight="bold" text-anchor="end" fill="#111" stroke="#111" stroke-width="0.22">10000</text>
<line x1="52.70" y1="512.10" x2="52.70" y2="703.20" stroke="#222" stroke-width="1.4"/>
<line x1="52.00" y1="702.60" x2="179.20" y2="702.60" stroke="#222" stroke-width="1.4"/>
<line x1="89.00" y1="702.60" x2="89.00" y2="707.10" stroke="#222" stroke-width="1.3"/>
<text transform="translate(89.00,720.10) scale(1.050,1)" font-size="10.4" font-weight="bold" text-anchor="middle" fill="#111" stroke="#111" stroke-width="0.22">PD</text>
<line x1="143.10" y1="702.60" x2="143.10" y2="707.10" stroke="#222" stroke-width="1.3"/>
<text transform="translate(143.10,720.10) scale(1.050,1)" font-size="10.4" font-weight="bold" text-anchor="middle" fill="#111" stroke="#111" stroke-width="0.22">R</text>
<text transform="translate(115.95,735.50) scale(1.050,1)" font-size="10.55" font-weight="bold" text-anchor="middle" fill="#111" stroke="#111" stroke-width="0.22">Response Class</text>
<text transform="translate(59.30,518.60) scale(1.030,1)" font-size="10.8" font-weight="normal" text-anchor="start" fill="#222">p = 0.025</text>
<line x1="89.05" y1="555.60" x2="89.05" y2="557.10" stroke="#444" stroke-width="1"/>
<line x1="89.05" y1="589.30" x2="89.05" y2="592.60" stroke="#444" stroke-width="1"/>
<line x1="80.45" y1="555.60" x2="97.65" y2="555.60" stroke="#444" stroke-width="1"/>
<line x1="80.45" y1="592.60" x2="97.65" y2="592.60" stroke="#444" stroke-width="1"/>
<rect x="71.40" y="557.10" width="35.30" height="32.20" fill="#E9E9E9" stroke="#555" stroke-width="1.1"/>
<line x1="71.40" y1="570.40" x2="106.70" y2="570.40" stroke="#555" stroke-width="1.1"/>
<line x1="143.15" y1="564.30" x2="143.15" y2="601.70" stroke="#444" stroke-width="1"/>
<line x1="143.15" y1="664.50" x2="143.15" y2="671.10" stroke="#444" stroke-width="1"/>
<line x1="134.55" y1="564.30" x2="151.75" y2="564.30" stroke="#444" stroke-width="1"/>
<line x1="134.55" y1="671.10" x2="151.75" y2="671.10" stroke="#444" stroke-width="1"/>
<rect x="125.60" y="601.70" width="35.10" height="62.80" fill="#E9E9E9" stroke="#555" stroke-width="1.1"/>
<line x1="125.60" y1="640.90" x2="160.70" y2="640.90" stroke="#555" stroke-width="1.1"/>
<circle cx="80.50" cy="560.50" r="3.9" fill="#FF2A00" stroke="#0a0a0a" stroke-width="0.75"/>
<circle cx="97.20" cy="555.20" r="3.9" fill="#FF2A00" stroke="#0a0a0a" stroke-width="0.75"/>
<circle cx="88.60" cy="580.20" r="3.9" fill="#FF2A00" stroke="#0a0a0a" stroke-width="0.75"/>
<circle cx="88.60" cy="592.80" r="3.9" fill="#FF2A00" stroke="#0a0a0a" stroke-width="0.75"/>
<circle cx="143.10" cy="564.30" r="3.9" fill="#0A1A8C" stroke="#0a0a0a" stroke-width="0.75"/>
<circle cx="138.30" cy="581.60" r="3.9" fill="#74CEF6" stroke="#0a0a0a" stroke-width="0.75"/>
<circle cx="147.70" cy="585.40" r="3.9" fill="#0A30FA" stroke="#0a0a0a" stroke-width="0.75"/>
<circle cx="143.10" cy="597.20" r="3.9" fill="#0A30FA" stroke="#0a0a0a" stroke-width="0.75"/>
<circle cx="138.30" cy="615.50" r="3.9" fill="#0A30FA" stroke="#0a0a0a" stroke-width="0.75"/>
<circle cx="147.70" cy="614.20" r="3.9" fill="#0A1A8C" stroke="#0a0a0a" stroke-width="0.75"/>
<circle cx="143.10" cy="629.40" r="3.9" fill="#0A1A8C" stroke="#0a0a0a" stroke-width="0.75"/>
<circle cx="152.20" cy="639.90" r="3.9" fill="#0A30FA" stroke="#0a0a0a" stroke-width="0.75"/>
<circle cx="143.10" cy="642.00" r="3.9" fill="#0A30FA" stroke="#0a0a0a" stroke-width="0.75"/>
<circle cx="133.70" cy="645.80" r="3.9" fill="#0A30FA" stroke="#0a0a0a" stroke-width="0.75"/>
<circle cx="147.70" cy="654.70" r="3.9" fill="#74CEF6" stroke="#0a0a0a" stroke-width="0.75"/>
<circle cx="138.30" cy="658.20" r="3.9" fill="#0A30FA" stroke="#0a0a0a" stroke-width="0.75"/>
<circle cx="138.30" cy="667.00" r="3.9" fill="#74CEF6" stroke="#0a0a0a" stroke-width="0.75"/>
<circle cx="129.20" cy="671.40" r="3.9" fill="#0A1A8C" stroke="#0a0a0a" stroke-width="0.75"/>
<circle cx="147.70" cy="669.80" r="3.9" fill="#0A1A8C" stroke="#0a0a0a" stroke-width="0.75"/>
<circle cx="157.00" cy="667.80" r="3.9" fill="#0A1A8C" stroke="#0a0a0a" stroke-width="0.75"/>
<text transform="translate(283.40,493.80) scale(1.050,1)" font-size="10.4" font-weight="bold" text-anchor="middle" fill="#111" stroke="#111" stroke-width="0.22">CDK4</text>
<text transform="translate(175.50,606.20) rotate(-90)" font-size="10.6" font-weight="bold" text-anchor="middle" fill="#111" textLength="114.5" lengthAdjust="spacingAndGlyphs">RPPA intensity values</text>
<line x1="214.80" y1="702.60" x2="219.80" y2="702.60" stroke="#222" stroke-width="1.3"/>
<text transform="translate(212.80,706.20) scale(1.110,1)" font-size="10.4" font-weight="bold" text-anchor="end" fill="#111" stroke="#111" stroke-width="0.22">0</text>
<line x1="214.80" y1="639.17" x2="219.80" y2="639.17" stroke="#222" stroke-width="1.3"/>
<text transform="translate(212.80,642.77) scale(1.110,1)" font-size="10.4" font-weight="bold" text-anchor="end" fill="#111" stroke="#111" stroke-width="0.22">20000</text>
<line x1="214.80" y1="575.73" x2="219.80" y2="575.73" stroke="#222" stroke-width="1.3"/>
<text transform="translate(212.80,579.33) scale(1.110,1)" font-size="10.4" font-weight="bold" text-anchor="end" fill="#111" stroke="#111" stroke-width="0.22">40000</text>
<line x1="214.80" y1="512.30" x2="219.80" y2="512.30" stroke="#222" stroke-width="1.3"/>
<text transform="translate(212.80,515.90) scale(1.110,1)" font-size="10.4" font-weight="bold" text-anchor="end" fill="#111" stroke="#111" stroke-width="0.22">60000</text>
<line x1="219.80" y1="511.70" x2="219.80" y2="703.20" stroke="#222" stroke-width="1.4"/>
<line x1="219.10" y1="702.60" x2="346.60" y2="702.60" stroke="#222" stroke-width="1.4"/>
<line x1="255.90" y1="702.60" x2="255.90" y2="707.10" stroke="#222" stroke-width="1.3"/>
<text transform="translate(255.90,720.10) scale(1.050,1)" font-size="10.4" font-weight="bold" text-anchor="middle" fill="#111" stroke="#111" stroke-width="0.22">PD</text>
<line x1="310.20" y1="702.60" x2="310.20" y2="707.10" stroke="#222" stroke-width="1.3"/>
<text transform="translate(310.20,720.10) scale(1.050,1)" font-size="10.4" font-weight="bold" text-anchor="middle" fill="#111" stroke="#111" stroke-width="0.22">R</text>
<text transform="translate(283.20,735.50) scale(1.050,1)" font-size="10.55" font-weight="bold" text-anchor="middle" fill="#111" stroke="#111" stroke-width="0.22">Response Class</text>
<text transform="translate(229.30,518.60) scale(1.030,1)" font-size="10.8" font-weight="normal" text-anchor="start" fill="#222">p = 0.025</text>
<line x1="256.05" y1="549.00" x2="256.05" y2="579.30" stroke="#444" stroke-width="1"/>
<line x1="256.05" y1="680.60" x2="256.05" y2="681.00" stroke="#444" stroke-width="1"/>
<line x1="247.45" y1="549.00" x2="264.65" y2="549.00" stroke="#444" stroke-width="1"/>
<line x1="247.45" y1="681.00" x2="264.65" y2="681.00" stroke="#444" stroke-width="1"/>
<rect x="238.50" y="579.30" width="35.10" height="101.30" fill="#E9E9E9" stroke="#555" stroke-width="1.1"/>
<line x1="238.50" y1="674.40" x2="273.60" y2="674.40" stroke="#555" stroke-width="1.1"/>
<line x1="310.35" y1="670.10" x2="310.35" y2="689.20" stroke="#444" stroke-width="1"/>
<line x1="310.35" y1="697.00" x2="310.35" y2="699.00" stroke="#444" stroke-width="1"/>
<line x1="301.75" y1="670.10" x2="318.95" y2="670.10" stroke="#444" stroke-width="1"/>
<line x1="301.75" y1="699.00" x2="318.95" y2="699.00" stroke="#444" stroke-width="1"/>
<rect x="292.30" y="689.20" width="36.10" height="7.80" fill="#E9E9E9" stroke="#555" stroke-width="1.1"/>
<line x1="292.30" y1="693.00" x2="328.40" y2="693.00" stroke="#555" stroke-width="1.1"/>
<circle cx="255.90" cy="549.00" r="3.9" fill="#FF2A00" stroke="#0a0a0a" stroke-width="0.75"/>
<circle cx="255.90" cy="669.30" r="3.9" fill="#FF2A00" stroke="#0a0a0a" stroke-width="0.75"/>
<circle cx="248.00" cy="681.00" r="3.9" fill="#FF2A00" stroke="#0a0a0a" stroke-width="0.75"/>
<circle cx="264.10" cy="680.10" r="3.9" fill="#FF2A00" stroke="#0a0a0a" stroke-width="0.75"/>
<circle cx="310.30" cy="670.10" r="3.9" fill="#74CEF6" stroke="#0a0a0a" stroke-width="0.75"/>
<circle cx="314.80" cy="682.30" r="3.9" fill="#0A1A8C" stroke="#0a0a0a" stroke-width="0.75"/>
<circle cx="316.40" cy="692.10" r="3.9" fill="#0A1A8C" stroke="#0a0a0a" stroke-width="0.75"/>
<circle cx="309.50" cy="692.80" r="3.9" fill="#0A1A8C" stroke="#0a0a0a" stroke-width="0.75"/>
<circle cx="302.50" cy="693.80" r="3.9" fill="#0A30FA" stroke="#0a0a0a" stroke-width="0.75"/>
<circle cx="320.50" cy="694.00" r="3.9" fill="#0A30FA" stroke="#0a0a0a" stroke-width="0.75"/>
<circle cx="299.00" cy="689.60" r="3.9" fill="#0A30FA" stroke="#0a0a0a" stroke-width="0.75"/>
<circle cx="304.70" cy="689.80" r="3.9" fill="#0A30FA" stroke="#0a0a0a" stroke-width="0.75"/>
<circle cx="311.90" cy="687.40" r="3.9" fill="#0A30FA" stroke="#0a0a0a" stroke-width="0.75"/>
<circle cx="324.40" cy="692.10" r="3.9" fill="#0A30FA" stroke="#0a0a0a" stroke-width="0.75"/>
<circle cx="296.30" cy="695.60" r="3.9" fill="#0A1A8C" stroke="#0a0a0a" stroke-width="0.75"/>
<circle cx="307.30" cy="698.10" r="3.9" fill="#0A1A8C" stroke="#0a0a0a" stroke-width="0.75"/>
<circle cx="313.10" cy="695.80" r="3.9" fill="#74CEF6" stroke="#0a0a0a" stroke-width="0.75"/>
<circle cx="319.20" cy="696.40" r="3.9" fill="#74CEF6" stroke="#0a0a0a" stroke-width="0.75"/>
<text transform="translate(449.10,492.80) scale(1.050,1)" font-size="10.4" font-weight="bold" text-anchor="middle" fill="#111" stroke="#111" stroke-width="0.22">CDK4 T172</text>
<text transform="translate(342.50,606.20) rotate(-90)" font-size="10.6" font-weight="bold" text-anchor="middle" fill="#111" textLength="114.5" lengthAdjust="spacingAndGlyphs">RPPA intensity values</text>
<line x1="380.90" y1="702.60" x2="385.90" y2="702.60" stroke="#222" stroke-width="1.3"/>
<text transform="translate(378.90,706.20) scale(1.110,1)" font-size="10.4" font-weight="bold" text-anchor="end" fill="#111" stroke="#111" stroke-width="0.22">0</text>
<line x1="380.90" y1="655.17" x2="385.90" y2="655.17" stroke="#222" stroke-width="1.3"/>
<text transform="translate(378.90,658.77) scale(1.110,1)" font-size="10.4" font-weight="bold" text-anchor="end" fill="#111" stroke="#111" stroke-width="0.22">20000</text>
<line x1="380.90" y1="607.75" x2="385.90" y2="607.75" stroke="#222" stroke-width="1.3"/>
<text transform="translate(378.90,611.35) scale(1.110,1)" font-size="10.4" font-weight="bold" text-anchor="end" fill="#111" stroke="#111" stroke-width="0.22">40000</text>
<line x1="380.90" y1="560.33" x2="385.90" y2="560.33" stroke="#222" stroke-width="1.3"/>
<text transform="translate(378.90,563.93) scale(1.110,1)" font-size="10.4" font-weight="bold" text-anchor="end" fill="#111" stroke="#111" stroke-width="0.22">60000</text>
<line x1="380.90" y1="512.90" x2="385.90" y2="512.90" stroke="#222" stroke-width="1.3"/>
<text transform="translate(378.90,516.50) scale(1.110,1)" font-size="10.4" font-weight="bold" text-anchor="end" fill="#111" stroke="#111" stroke-width="0.22">80000</text>
<line x1="385.90" y1="512.30" x2="385.90" y2="703.20" stroke="#222" stroke-width="1.4"/>
<line x1="385.20" y1="702.60" x2="512.20" y2="702.60" stroke="#222" stroke-width="1.4"/>
<line x1="421.90" y1="702.60" x2="421.90" y2="707.10" stroke="#222" stroke-width="1.3"/>
<text transform="translate(421.90,720.10) scale(1.050,1)" font-size="10.4" font-weight="bold" text-anchor="middle" fill="#111" stroke="#111" stroke-width="0.22">PD</text>
<line x1="476.10" y1="702.60" x2="476.10" y2="707.10" stroke="#222" stroke-width="1.3"/>
<text transform="translate(476.10,720.10) scale(1.050,1)" font-size="10.4" font-weight="bold" text-anchor="middle" fill="#111" stroke="#111" stroke-width="0.22">R</text>
<text transform="translate(449.05,735.50) scale(1.050,1)" font-size="10.55" font-weight="bold" text-anchor="middle" fill="#111" stroke="#111" stroke-width="0.22">Response Class</text>
<text transform="translate(397.20,518.60) scale(1.030,1)" font-size="10.8" font-weight="normal" text-anchor="start" fill="#222">p = 0.025</text>
<line x1="421.95" y1="570.60" x2="421.95" y2="586.90" stroke="#444" stroke-width="1"/>
<line x1="421.95" y1="646.30" x2="421.95" y2="650.90" stroke="#444" stroke-width="1"/>
<line x1="413.35" y1="570.60" x2="430.55" y2="570.60" stroke="#444" stroke-width="1"/>
<line x1="413.35" y1="650.90" x2="430.55" y2="650.90" stroke="#444" stroke-width="1"/>
<rect x="404.40" y="586.90" width="35.10" height="59.40" fill="#E9E9E9" stroke="#555" stroke-width="1.1"/>
<line x1="404.40" y1="635.30" x2="439.50" y2="635.30" stroke="#555" stroke-width="1.1"/>
<line x1="476.25" y1="566.40" x2="476.25" y2="647.40" stroke="#444" stroke-width="1"/>
<line x1="476.25" y1="675.00" x2="476.25" y2="694.50" stroke="#444" stroke-width="1"/>
<line x1="467.65" y1="566.40" x2="484.85" y2="566.40" stroke="#444" stroke-width="1"/>
<line x1="467.65" y1="694.50" x2="484.85" y2="694.50" stroke="#444" stroke-width="1"/>
<rect x="458.50" y="647.40" width="35.50" height="27.60" fill="#E9E9E9" stroke="#555" stroke-width="1.1"/>
<line x1="458.50" y1="661.10" x2="494.00" y2="661.10" stroke="#555" stroke-width="1.1"/>
<circle cx="421.90" cy="570.60" r="3.9" fill="#FF2A00" stroke="#0a0a0a" stroke-width="0.75"/>
<circle cx="413.50" cy="635.30" r="3.9" fill="#FF2A00" stroke="#0a0a0a" stroke-width="0.75"/>
<circle cx="430.00" cy="635.30" r="3.9" fill="#FF2A00" stroke="#0a0a0a" stroke-width="0.75"/>
<circle cx="421.90" cy="650.90" r="3.9" fill="#FF2A00" stroke="#0a0a0a" stroke-width="0.75"/>
<circle cx="476.10" cy="566.40" r="3.9" fill="#0A30FA" stroke="#0a0a0a" stroke-width="0.75"/>
<circle cx="480.70" cy="639.80" r="3.9" fill="#0A30FA" stroke="#0a0a0a" stroke-width="0.75"/>
<circle cx="490.20" cy="639.80" r="3.9" fill="#0A30FA" stroke="#0a0a0a" stroke-width="0.75"/>
<circle cx="462.30" cy="646.50" r="3.9" fill="#0A30FA" stroke="#0a0a0a" stroke-width="0.75"/>
<circle cx="471.80" cy="649.00" r="3.9" fill="#0A1A8C" stroke="#0a0a0a" stroke-width="0.75"/>
<circle cx="480.70" cy="652.20" r="3.9" fill="#0A1A8C" stroke="#0a0a0a" stroke-width="0.75"/>
<circle cx="471.80" cy="657.30" r="3.9" fill="#0A30FA" stroke="#0a0a0a" stroke-width="0.75"/>
<circle cx="490.20" cy="660.00" r="3.9" fill="#0A30FA" stroke="#0a0a0a" stroke-width="0.75"/>
<circle cx="462.30" cy="664.50" r="3.9" fill="#74CEF6" stroke="#0a0a0a" stroke-width="0.75"/>
<circle cx="480.70" cy="661.70" r="3.9" fill="#74CEF6" stroke="#0a0a0a" stroke-width="0.75"/>
<circle cx="471.80" cy="667.40" r="3.9" fill="#74CEF6" stroke="#0a0a0a" stroke-width="0.75"/>
<circle cx="462.30" cy="675.90" r="3.9" fill="#0A30FA" stroke="#0a0a0a" stroke-width="0.75"/>
<circle cx="471.80" cy="679.30" r="3.9" fill="#0A1A8C" stroke="#0a0a0a" stroke-width="0.75"/>
<circle cx="480.70" cy="679.70" r="3.9" fill="#0A1A8C" stroke="#0a0a0a" stroke-width="0.75"/>
<circle cx="490.20" cy="677.80" r="3.9" fill="#0A1A8C" stroke="#0a0a0a" stroke-width="0.75"/>
<circle cx="476.10" cy="694.50" r="3.9" fill="#0A1A8C" stroke="#0a0a0a" stroke-width="0.75"/>
<text transform="translate(623.20,494.30) scale(1.050,1)" font-size="10.4" font-weight="bold" text-anchor="middle" fill="#111" stroke="#111" stroke-width="0.22">Cyclin E1</text>
<text transform="translate(513.30,606.20) rotate(-90)" font-size="10.6" font-weight="bold" text-anchor="middle" fill="#111" textLength="114.5" lengthAdjust="spacingAndGlyphs">RPPA intensity values</text>
<line x1="557.10" y1="703.60" x2="562.10" y2="703.60" stroke="#222" stroke-width="1.3"/>
<text transform="translate(553.90,707.20) scale(1.040,1)" font-size="10.4" font-weight="bold" text-anchor="end" fill="#111" stroke="#111" stroke-width="0.22">0</text>
<line x1="557.10" y1="665.82" x2="562.10" y2="665.82" stroke="#222" stroke-width="1.3"/>
<text transform="translate(553.90,669.42) scale(1.040,1)" font-size="10.4" font-weight="bold" text-anchor="end" fill="#111" stroke="#111" stroke-width="0.22">20000</text>
<line x1="557.10" y1="628.04" x2="562.10" y2="628.04" stroke="#222" stroke-width="1.3"/>
<text transform="translate(553.90,631.64) scale(1.040,1)" font-size="10.4" font-weight="bold" text-anchor="end" fill="#111" stroke="#111" stroke-width="0.22">40000</text>
<line x1="557.10" y1="590.26" x2="562.10" y2="590.26" stroke="#222" stroke-width="1.3"/>
<text transform="translate(553.90,593.86) scale(1.040,1)" font-size="10.4" font-weight="bold" text-anchor="end" fill="#111" stroke="#111" stroke-width="0.22">60000</text>
<line x1="557.10" y1="552.48" x2="562.10" y2="552.48" stroke="#222" stroke-width="1.3"/>
<text transform="translate(553.90,556.08) scale(1.040,1)" font-size="10.4" font-weight="bold" text-anchor="end" fill="#111" stroke="#111" stroke-width="0.22">80000</text>
<line x1="557.10" y1="514.70" x2="562.10" y2="514.70" stroke="#222" stroke-width="1.3"/>
<text transform="translate(553.90,518.30) scale(1.040,1)" font-size="10.4" font-weight="bold" text-anchor="end" fill="#111" stroke="#111" stroke-width="0.22">100000</text>
<line x1="562.10" y1="514.10" x2="562.10" y2="704.20" stroke="#222" stroke-width="1.4"/>
<line x1="561.40" y1="703.60" x2="684.40" y2="703.60" stroke="#222" stroke-width="1.4"/>
<line x1="596.70" y1="703.60" x2="596.70" y2="708.10" stroke="#222" stroke-width="1.3"/>
<text transform="translate(596.70,721.10) scale(1.050,1)" font-size="10.4" font-weight="bold" text-anchor="middle" fill="#111" stroke="#111" stroke-width="0.22">PD</text>
<line x1="649.50" y1="703.60" x2="649.50" y2="708.10" stroke="#222" stroke-width="1.3"/>
<text transform="translate(649.50,721.10) scale(1.050,1)" font-size="10.4" font-weight="bold" text-anchor="middle" fill="#111" stroke="#111" stroke-width="0.22">R</text>
<text transform="translate(623.25,736.50) scale(1.050,1)" font-size="10.55" font-weight="bold" text-anchor="middle" fill="#111" stroke="#111" stroke-width="0.22">Response Class</text>
<text transform="translate(569.30,518.90) scale(1.030,1)" font-size="10.8" font-weight="normal" text-anchor="start" fill="#222">p = 0.025</text>
<line x1="596.85" y1="666.60" x2="596.85" y2="668.50" stroke="#444" stroke-width="1"/>
<line x1="596.85" y1="686.10" x2="596.85" y2="686.50" stroke="#444" stroke-width="1"/>
<line x1="588.25" y1="666.60" x2="605.45" y2="666.60" stroke="#444" stroke-width="1"/>
<line x1="588.25" y1="686.50" x2="605.45" y2="686.50" stroke="#444" stroke-width="1"/>
<rect x="579.30" y="668.50" width="35.10" height="17.60" fill="#E9E9E9" stroke="#555" stroke-width="1.1"/>
<line x1="579.30" y1="679.50" x2="614.40" y2="679.50" stroke="#555" stroke-width="1.1"/>
<line x1="649.45" y1="536.80" x2="649.45" y2="682.50" stroke="#444" stroke-width="1"/>
<line x1="649.45" y1="693.50" x2="649.45" y2="695.50" stroke="#444" stroke-width="1"/>
<line x1="640.85" y1="536.80" x2="658.05" y2="536.80" stroke="#444" stroke-width="1"/>
<line x1="640.85" y1="695.50" x2="658.05" y2="695.50" stroke="#444" stroke-width="1"/>
<rect x="632.30" y="682.50" width="34.30" height="11.00" fill="#E9E9E9" stroke="#555" stroke-width="1.1"/>
<line x1="632.30" y1="688.50" x2="666.60" y2="688.50" stroke="#555" stroke-width="1.1"/>
<circle cx="604.70" cy="666.60" r="3.9" fill="#FF2A00" stroke="#0a0a0a" stroke-width="0.75"/>
<circle cx="588.80" cy="672.60" r="3.9" fill="#FF2A00" stroke="#0a0a0a" stroke-width="0.75"/>
<circle cx="588.80" cy="686.50" r="3.9" fill="#FF2A00" stroke="#0a0a0a" stroke-width="0.75"/>
<circle cx="604.70" cy="686.50" r="3.9" fill="#FF2A00" stroke="#0a0a0a" stroke-width="0.75"/>
<circle cx="649.60" cy="536.80" r="3.9" fill="#0A30FA" stroke="#0a0a0a" stroke-width="0.75"/>
<circle cx="651.60" cy="678.50" r="3.9" fill="#0A1A8C" stroke="#0a0a0a" stroke-width="0.75"/>
<circle cx="649.00" cy="688.50" r="3.9" fill="#0A1A8C" stroke="#0a0a0a" stroke-width="0.75"/>
<circle cx="655.50" cy="688.00" r="3.9" fill="#0A1A8C" stroke="#0a0a0a" stroke-width="0.75"/>
<circle cx="638.00" cy="685.10" r="3.9" fill="#0A30FA" stroke="#0a0a0a" stroke-width="0.75"/>
<circle cx="640.00" cy="689.10" r="3.9" fill="#0A30FA" stroke="#0a0a0a" stroke-width="0.75"/>
<circle cx="635.60" cy="690.50" r="3.9" fill="#0A30FA" stroke="#0a0a0a" stroke-width="0.75"/>
<circle cx="645.40" cy="694.60" r="3.9" fill="#0A1A8C" stroke="#0a0a0a" stroke-width="0.75"/>
<circle cx="663.30" cy="691.60" r="3.9" fill="#0A1A8C" stroke="#0a0a0a" stroke-width="0.75"/>
<circle cx="660.80" cy="688.70" r="3.9" fill="#0A30FA" stroke="#0a0a0a" stroke-width="0.75"/>
<circle cx="655.70" cy="691.60" r="3.9" fill="#0A30FA" stroke="#0a0a0a" stroke-width="0.75"/>
<circle cx="648.20" cy="681.10" r="3.9" fill="#0A30FA" stroke="#0a0a0a" stroke-width="0.75"/>
<circle cx="643.20" cy="686.80" r="3.9" fill="#74CEF6" stroke="#0a0a0a" stroke-width="0.75"/>
<circle cx="650.50" cy="691.60" r="3.9" fill="#74CEF6" stroke="#0a0a0a" stroke-width="0.75"/>
<circle cx="649.30" cy="675.20" r="3.9" fill="#74CEF6" stroke="#0a0a0a" stroke-width="0.75"/>
<rect x="101.9" y="752.1" width="463.6" height="31.2" fill="none" stroke="#222" stroke-width="1.3" stroke-dasharray="5.3,4.4"/>
<text x="205.30" y="776.40" font-size="16.7" font-weight="bold" text-anchor="middle" fill="#111" >Response Class</text>
<circle cx="306.0" cy="770.6" r="6.0" fill="#7DD6FA" stroke="#555" stroke-width="0.5"/>
<text x="323.10" y="776.50" font-size="16" font-weight="bold" text-anchor="start" fill="#111" >CR</text>
<circle cx="372.2" cy="770.6" r="6.0" fill="#0A3CF5" stroke="#555" stroke-width="0.5"/>
<text x="388.70" y="776.50" font-size="16" font-weight="bold" text-anchor="start" fill="#111" >PR</text>
<circle cx="436.3" cy="770.6" r="6.0" fill="#0A1A8C" stroke="#555" stroke-width="0.5"/>
<text x="452.00" y="776.50" font-size="16" font-weight="bold" text-anchor="start" fill="#111" >SD</text>
<circle cx="495.3" cy="770.6" r="6.0" fill="#C00000" stroke="#555" stroke-width="0.5"/>
<text x="511.00" y="776.50" font-size="16" font-weight="bold" text-anchor="start" fill="#111" >PD</text>
</svg>
</body></html>
